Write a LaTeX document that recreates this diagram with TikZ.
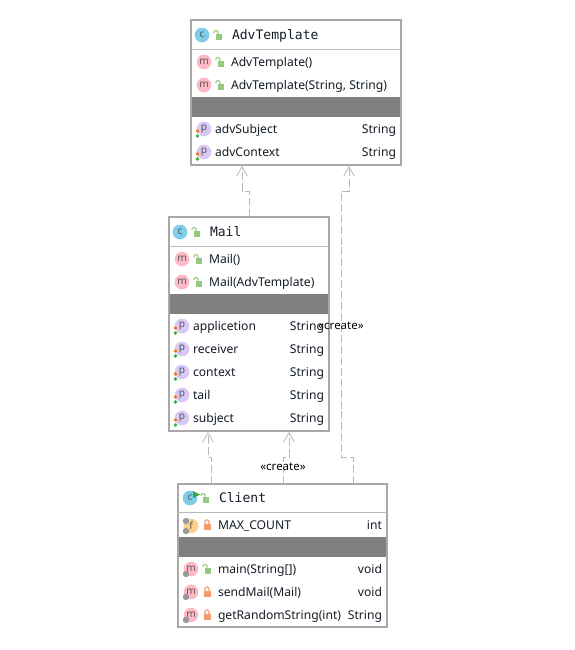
\documentclass[tikz,border=0pt]{standalone}
\usepackage{fontspec}
\setmainfont{Noto Sans}
\setmonofont{DejaVu Sans Mono}
\usepackage{xcolor}
\usetikzlibrary{arrows.meta,positioning,calc}
\definecolor{boxline}{HTML}{A8A8A8}
\definecolor{band}{HTML}{808080}
\definecolor{depline}{HTML}{B8B8B8}
\definecolor{inkline}{HTML}{141C26}
\definecolor{classfill}{HTML}{7FCDE8}
\definecolor{methodfill}{HTML}{FFB9C6}
\definecolor{propfill}{HTML}{D9C8F6}
\definecolor{finalfill}{HTML}{FDD08C}
\definecolor{lockgreen}{HTML}{97C97F}
\definecolor{lockorange}{HTML}{F49A6C}

\begin{document}
\begin{tikzpicture}[x=0.75pt, y=-0.75pt, every node/.style={align=left, text=inkline, font=\fontsize{9.1}{11}\selectfont, inner sep=0pt, outer sep=0pt}]
\tikzset{
  umlbox/.style={draw=boxline, line width=1.6pt, anchor=north west, minimum width=#1},
  rowname/.style={anchor=base west, yshift=-3.4pt},
  rowtype/.style={anchor=base east, yshift=-3.4pt},
  titletext/.style={anchor=base west, yshift=-3.6pt, font=\ttfamily\fontsize{9.8}{11}\selectfont},
  icon/.style={circle, minimum size=11pt, text=black!65, font=\fontsize{7.6}{8}\selectfont},
  iconc/.style={icon, fill=classfill},
  iconm/.style={icon, fill=methodfill},
  iconp/.style={icon, fill=propfill},
  iconf/.style={icon, fill=finalfill},
  dep/.style={draw=depline, line width=0.75pt, dash pattern=on 6pt off 2.2pt, -{Straight Barb[length=7pt,width=8pt,line width=0.6pt]}},
  sepline/.style={draw=boxline!80, line width=0.75pt},
  openlock/.pic={
    \fill[lockgreen] (-1.5,-1) rectangle (5,5);
    \draw[lockgreen, line width=0.8pt, rounded corners=1pt] (1,-1) -- (1,-4.5) -- (-3,-4.5) -- (-3,-2);
  },
  shutlock/.pic={
    \fill[lockorange] (-3.5,-1) rectangle (3.5,4.5);
    \draw[lockorange, line width=0.8pt, rounded corners=1pt] (-2,-1) -- (-2,-5) -- (2,-5) -- (2,-1);
  },
  pdots/.pic={
    \fill[orange!90!red] (-6.5,2) circle (1.9);
    \fill[green!60!black!80] (-6.5,7) circle (1.9);
  },
  gear/.pic={
    \fill[gray!80] (0,0) circle (3.2);
  }
}
% boxes
\node[umlbox=157.5pt, minimum height=108.75pt] (adv) at (191,20) {};
\node[umlbox=120pt, minimum height=160.5pt] (mail) at (169,217) {};
\node[umlbox=156.75pt, minimum height=107.25pt] (client) at (178,484) {};
% separators and bands
\draw[sepline] (adv.north west |- 0,49) -- (adv.north east |- 0,49);
\fill[band] (192,97) rectangle (400,117);
\draw[sepline] (mail.north west |- 0,246) -- (mail.north east |- 0,246);
\fill[band] (170,294) rectangle (328,314);
\draw[sepline] (client.north west |- 0,512) -- (client.north east |- 0,512);
\fill[band] (179,537) rectangle (386,557);
% AdvTemplate
\node[iconc] (advc) at (202,35) {c};
\pic at (217,35) {openlock};
\node[titletext] (advtitle) at (232,35) {AdvTemplate};
\foreach \y/\txt [count=\i] in {62/AdvTemplate(), 85/{AdvTemplate(String, String)}} {
  \node[iconm] (advi\i) at (204,\y) {m};
  \pic at (219,\y) {openlock};
  \node[rowname] (advm\i) at (231,\y) {\txt};
}
\foreach \y/\txt [count=\i] in {129/advSubject, 152/advContext} {
  \node[iconp] (advq\i) at (204,\y) {p};
  \pic at (204,\y) {pdots};
  \node[rowname] (advf\i) at (215,\y) {\txt};
  \node[rowtype] (advt\i) at (396,\y) {String};
}
% Mail
\node[iconc] (mailc) at (180,232) {c};
\pic at (195,232) {openlock};
\node[titletext] (mailtitle) at (210,232) {Mail};
\foreach \y/\txt [count=\i] in {259/Mail(), 282/Mail(AdvTemplate)} {
  \node[iconm] (maili\i) at (182,\y) {m};
  \pic at (197,\y) {openlock};
  \node[rowname] (mailm\i) at (209,\y) {\txt};
}
\foreach \y/\txt [count=\i] in {326/applicetion, 349/receiver, 372/context, 395/tail, 418/subject} {
  \node[iconp] (mailq\i) at (182,\y) {p};
  \pic at (182,\y) {pdots};
  \node[rowname] (mailf\i) at (193,\y) {\txt};
  \node[rowtype] (mailt\i) at (324,\y) {String};
}
% Client
\node[iconc] (clientc) at (190,498) {c};
\fill[green!60!black!80] (193,491) -- (200,494.5) -- (193,498) -- cycle;
\pic at (204,498) {openlock};
\node[titletext] (clienttitle) at (219,498) {Client};
\node[iconf] (clienti) at (191,526) {f};
\pic at (186,521) {gear};
\pic at (186,531) {gear};
\pic at (207,525) {shutlock};
\node[rowname] (clientf) at (218,525) {MAX\_COUNT};
\node[rowtype] (clientt) at (382,525) {int};
\foreach \y/\txt/\ty/\lk/\lx [count=\i] in {569/main(String[])/void/openlock/206, 592/sendMail(Mail)/void/shutlock/207, 615/getRandomString(int)/String/shutlock/207} {
  \node[iconm] (clientq\i) at (191,\y) {m};
  \pic at (186,\y+5) {gear};
  \pic at (\lx,\y) {\lk};
  \node[rowname] (clientm\i) at (218,\y) {\txt};
  \node[rowtype] (clientr\i) at (382,\y) {\ty};
}
% dependencies
\draw[dep] ($(mail.north west)+(80,0)$) -- ++(0,-26) -| ($(adv.south west)+(51,1)$);
\draw[dep] ($(client.north west)+(175,0)$) -- ++(0,-27) -- ++(-12,0) |- ++(8,-266) -- ($(adv.south west)+(158,1)$);
\draw[dep] ($(client.north west)+(33.5,0)$) -- ++(0,-27) -| ($(mail.south west)+(39,1)$);
\draw[dep] ($(client.north west)+(105,0)$) -- ++(0,-27) -| ($(mail.south west)+(120,1)$);
% labels
\node[font=\fontsize{8.6}{10}\selectfont, text=black] (create1) at (283,467) {«create»};
\node[font=\fontsize{8.6}{10}\selectfont, text=black] (create2) at (341,326) {«create»};
\useasboundingbox (0,0) rectangle (575,650);
\end{tikzpicture}
\end{document}
